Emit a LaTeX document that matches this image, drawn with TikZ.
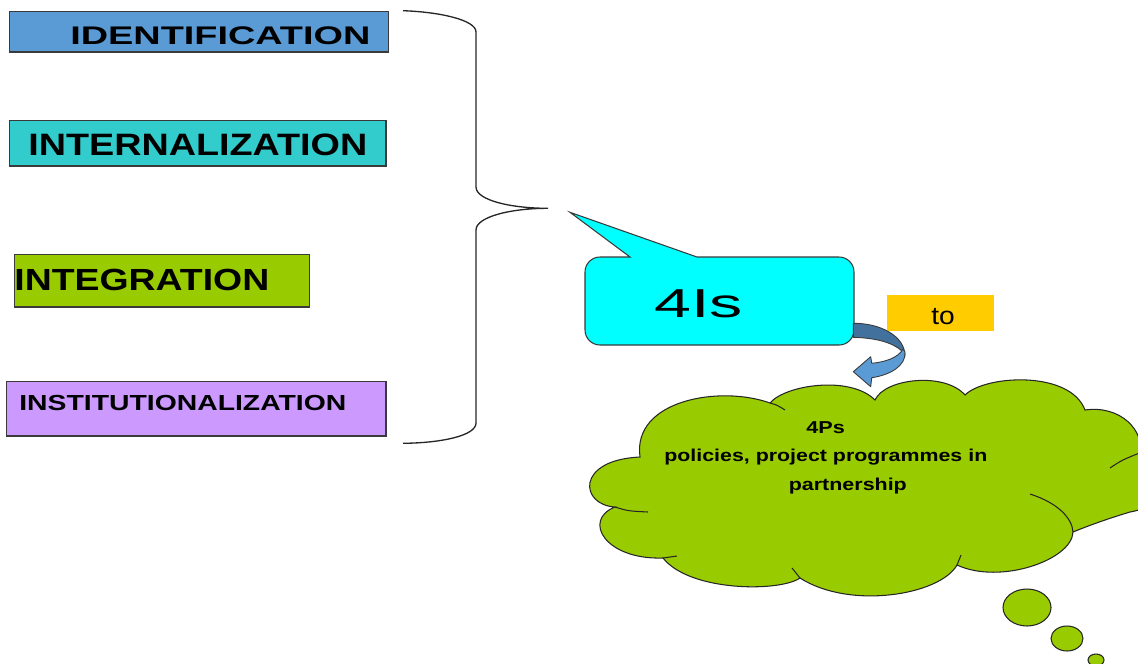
\documentclass[tikz,border=0pt]{standalone}
\usepackage{fontspec}
\setmainfont{Liberation Sans}
\usepackage{graphicx}
\usetikzlibrary{shapes.geometric}

\definecolor{idblue}{HTML}{5B9BD5}
\definecolor{tealfill}{HTML}{33CCCC}
\definecolor{limefill}{HTML}{99CC00}
\definecolor{lilacfill}{HTML}{CC99FF}
\definecolor{aquafill}{HTML}{00FFFF}
\definecolor{amberfill}{HTML}{FFCC00}
\definecolor{arrowdark}{HTML}{41719C}
\definecolor{arrowlight}{HTML}{5B9BD5}
\definecolor{edgegray}{HTML}{3A3A3A}

\begin{document}
\begin{tikzpicture}[
  x=0.02cm, y=-0.02cm,
  panel/.style={draw=edgegray, line width=0.65pt, inner sep=0pt, anchor=north west},
  word/.style={inner sep=0pt, anchor=base west, text=black},
  outline/.style={draw=black!85, line width=0.6pt},
  bubble/.style={ellipse, draw=black!85, line width=0.6pt, fill=limefill, inner sep=0pt}
]
\useasboundingbox (0,0) rectangle (1138,663);
\clip (0,0) rectangle (1138,663);

% ---- four stage boxes ----
\node[panel, fill=idblue,    minimum width=7.59cm, minimum height=0.81cm] (idbox) at (8.5,11) {};
\node[panel, fill=tealfill,  minimum width=7.54cm, minimum height=0.92cm] (inbox) at (8.5,119.5) {};
\node[panel, fill=limefill,  minimum width=5.91cm, minimum height=1.05cm] (igbox) at (13.5,254) {};
\node[panel, fill=lilacfill, minimum width=7.59cm, minimum height=1.09cm] (isbox) at (6,381) {};

\node[word, font=\fontsize{14.5}{17}\selectfont\bfseries] (idtext) at (70,44)
  {\resizebox{6.0cm}{\height}{IDENTIFICATION}};
\node[word, font=\fontsize{17.6}{20}\selectfont\bfseries] (intext) at (28,155.7)
  {\resizebox{6.78cm}{\height}{INTERNALIZATION}};
\node[word, font=\fontsize{17.4}{20}\selectfont\bfseries] (igtext) at (14,290)
  {\resizebox{5.1cm}{\height}{INTEGRATION}};
\node[word, font=\fontsize{12.4}{15}\selectfont\bfseries] (istext) at (19,410.7)
  {\resizebox{6.54cm}{\height}{INSTITUTIONALIZATION}};

% ---- brace gathering the four stages ----
\coordinate (bracetop) at (403,10.7);
\coordinate (bracetip) at (548,208.3);
\coordinate (bracebot) at (403,443.3);
\draw[line width=0.75pt, black!85]
  (bracetop) .. controls (440,12) and (476,20) .. (476,32)
  -- (476,187) .. controls (476,200) and (510,208.3) .. (bracetip)
  .. controls (510,208.3) and (476,217) .. (476,230)
  -- (476,423) .. controls (476,436) and (440,443) .. (bracebot);

% ---- speech callout with 4Is (rounded body, sharp pointer) ----
\draw[fill=aquafill, draw=edgegray, line width=0.6pt, line join=miter]
  (630,257) -- (570,212.3) -- (697,257) -- (839,257)
  .. controls (847.3,257) and (854,263.7) .. (854,272) -- (854,330)
  .. controls (854,338.3) and (847.3,345) .. (839,345) -- (600,345)
  .. controls (591.7,345) and (585,338.3) .. (585,330) -- (585,272)
  .. controls (585,263.7) and (591.7,257) .. (600,257) -- cycle;
\node[word, font=\fontsize{23}{27}\selectfont] (fouris) at (654,317.3)
  {\resizebox{1.77cm}{\height}{4Is}};

% ---- "to" tag ----
\node[inner sep=0pt, anchor=north west, fill=amberfill, minimum width=2.14cm, minimum height=0.71cm] (tobox) at (887,295) {};
\node[word, font=\fontsize{14.2}{17}\selectfont] (totext) at (931,324)
  {\resizebox{0.47cm}{\height}{to}};

% ---- curved arrow from the callout down to the cloud ----
\draw[fill=arrowdark, draw=edgegray, line width=0.5pt, line join=round]
  (853.3,323.3) .. controls (880,323) and (905,336) .. (905,356)
  -- (902,351) .. controls (892,342) and (875,338) .. (853.3,337.3) -- cycle;
\draw[fill=arrowlight, draw=edgegray, line width=0.5pt, line join=round]
  (905,352) .. controls (906,366) and (890,375) .. (871.7,377.7)
  -- (870.7,386.7) -- (853.3,371.7) -- (870.7,356.7) -- (871.7,363.3)
  .. controls (885,362) and (898,358) .. (903,349) -- cycle;

% ---- thought cloud ----
\path[fill=limefill, outline]
  (640,457)
  .. controls (632,400) and (720,385) .. (770,403)
  .. controls (785,385) and (850,375) .. (875,400)
  .. controls (885,378) and (945,372) .. (965,395)
  .. controls (985,375) and (1070,370) .. (1085,410)
  .. controls (1120,405) and (1145,430) .. (1140,455)
  .. controls (1175,465) and (1172,505) .. (1130,512)
  .. controls (1110,518) and (1090,525) .. (1073,532)
  .. controls (1072,560) and (1000,585) .. (957,565)
  .. controls (940,595) and (850,610) .. (800,578)
  .. controls (780,592) and (690,592) .. (663,558)
  .. controls (605,560) and (582,520) .. (615,507)
  .. controls (580,505) and (575,460) .. (640,457)
  -- cycle;
% inner puff strokes
\draw[outline] (770,403) .. controls (777,405) .. (785,410);
\draw[outline] (1110,468) .. controls (1122,460) .. (1142,452);
\draw[outline] (1030,494) .. controls (1058,503) and (1072,518) .. (1073,532);
\draw[outline] (800,578) -- (792,568);
\draw[outline] (957,565) -- (961,555);
\draw[outline] (663,558) -- (677,556);
\draw[outline] (615,507) .. controls (628,511) .. (648,512);

\node[word, font=\fontsize{9.8}{12}\selectfont\bfseries] (fourps) at (806,433.3)
  {\resizebox{0.77cm}{\height}{4Ps}};
\node[word, font=\fontsize{9.8}{12}\selectfont\bfseries] (pline) at (664,461.7)
  {\resizebox{6.46cm}{\height}{policies, project programmes in}};
\node[word, font=\fontsize{9.8}{12}\selectfont\bfseries] (partline) at (788.5,490.7)
  {\resizebox{2.36cm}{\height}{partnership}};

% ---- trailing bubbles ----
\node[bubble, minimum width=0.96cm, minimum height=0.74cm] (bub1) at (1027,607.5) {};
\node[bubble, minimum width=0.64cm, minimum height=0.5cm] (bub2) at (1067,638.5) {};
\node[bubble, minimum width=0.32cm, minimum height=0.24cm] (bub3) at (1096,660) {};
\end{tikzpicture}
\end{document}
